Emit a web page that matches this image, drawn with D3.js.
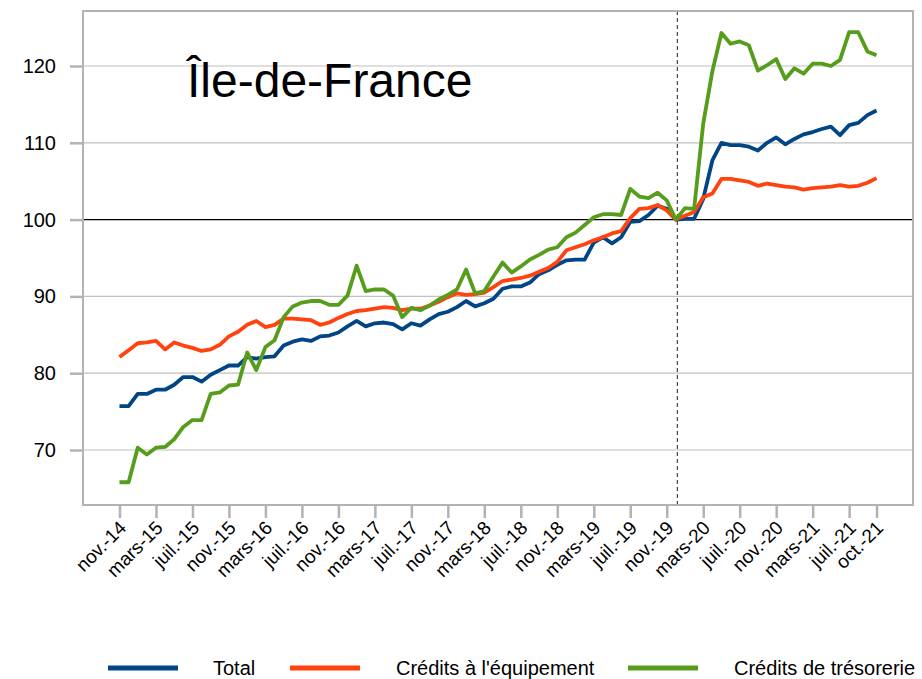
<!DOCTYPE html>
<html>
<head>
<meta charset="utf-8">
<script src="https://cdn.jsdelivr.net/npm/d3@7"></script>
<style>
    body { margin: 0; background: #fff; }
    svg text { font-family: "Liberation Sans", Arial, sans-serif; fill: #000; }
</style>
</head>
<body>
<div id="main"></div>
<script>
const W = 922, H = 679;
const TITLE = "Île-de-France";

// categories: one per month, nov. 2014 -> oct. 2021
const months = [
    "nov.-14", "déc.-14",
    "janv.-15", "févr.-15", "mars-15", "avr.-15", "mai-15", "juin-15", "juil.-15", "août-15", "sept.-15", "oct.-15", "nov.-15", "déc.-15",
    "janv.-16", "févr.-16", "mars-16", "avr.-16", "mai-16", "juin-16", "juil.-16", "août-16", "sept.-16", "oct.-16", "nov.-16", "déc.-16",
    "janv.-17", "févr.-17", "mars-17", "avr.-17", "mai-17", "juin-17", "juil.-17", "août-17", "sept.-17", "oct.-17", "nov.-17", "déc.-17",
    "janv.-18", "févr.-18", "mars-18", "avr.-18", "mai-18", "juin-18", "juil.-18", "août-18", "sept.-18", "oct.-18", "nov.-18", "déc.-18",
    "janv.-19", "févr.-19", "mars-19", "avr.-19", "mai-19", "juin-19", "juil.-19", "août-19", "sept.-19", "oct.-19", "nov.-19", "déc.-19",
    "janv.-20", "févr.-20", "mars-20", "avr.-20", "mai-20", "juin-20", "juil.-20", "août-20", "sept.-20", "oct.-20", "nov.-20", "déc.-20",
    "janv.-21", "févr.-21", "mars-21", "avr.-21", "mai-21", "juin-21", "juil.-21", "août-21", "sept.-21", "oct.-21"
];

const tickLabels = ["nov.-14", "mars-15", "juil.-15", "nov.-15", "mars-16", "juil.-16", "nov.-16", "mars-17",
    "juil.-17", "nov.-17", "mars-18", "juil.-18", "nov.-18", "mars-19", "juil.-19", "nov.-19", "mars-20",
    "juil.-20", "nov.-20", "mars-21", "juil.-21", "oct.-21"];

const yTicks = [70, 80, 90, 100, 110, 120];
const baseMonth = "déc.-19";

const total = [
    75.7, 75.7, 77.3, 77.3, 77.85, 77.85, 78.5, 79.5, 79.5, 78.9, 79.8, 80.4, 81.0, 81.0, 82.1, 81.9,
    82.1, 82.2, 83.6, 84.1, 84.4, 84.2, 84.8, 84.9, 85.3, 86.1, 86.8, 86.1, 86.5, 86.6, 86.4, 85.7,
    86.5, 86.2, 87.0, 87.7, 88.0, 88.6, 89.4, 88.7, 89.1, 89.7, 91.0, 91.3, 91.3, 91.8, 92.9, 93.4,
    94.1, 94.7, 94.8, 94.8, 97.0, 97.7, 96.9, 97.7, 99.7, 99.8, 100.6, 101.8, 101.4, 100.0, 100.1, 100.1,
    102.7, 107.7, 110.0, 109.7, 109.7, 109.5, 109.0, 110.0, 110.7, 109.8, 110.5, 111.1, 111.4, 111.8, 112.1, 111.0,
    112.3, 112.6, 113.6, 114.2
];

const equipement = [
    82.1, 83.0, 83.9, 84.0, 84.2, 83.1, 84.0, 83.6, 83.3, 82.9, 83.1, 83.7, 84.8, 85.4, 86.3, 86.8,
    86.0, 86.3, 87.1, 87.1, 87.0, 86.9, 86.3, 86.6, 87.2, 87.7, 88.1, 88.2, 88.4, 88.6, 88.5, 88.2,
    88.4, 88.4, 88.8, 89.3, 89.9, 90.4, 90.2, 90.3, 90.5, 91.2, 92.0, 92.2, 92.4, 92.7, 93.2, 93.7,
    94.5, 96.0, 96.4, 96.8, 97.3, 97.7, 98.2, 98.5, 100.2, 101.4, 101.5, 101.9, 101.2, 100.0, 100.5, 101.0,
    102.9, 103.4, 105.3, 105.3, 105.1, 104.9, 104.4, 104.7, 104.5, 104.3, 104.2, 103.9, 104.1, 104.2, 104.3, 104.5,
    104.3, 104.4, 104.8, 105.4
];

const tresorerie = [
    65.8, 65.8, 70.3, 69.4, 70.3, 70.4, 71.4, 73.0, 73.9, 73.9, 77.3, 77.5, 78.4, 78.5, 82.7, 80.4,
    83.4, 84.3, 87.3, 88.7, 89.2, 89.4, 89.4, 88.9, 88.9, 90.1, 94.0, 90.7, 90.9, 90.9, 90.1, 87.3,
    88.5, 88.2, 88.8, 89.6, 90.2, 90.9, 93.5, 90.4, 90.7, 92.6, 94.4, 93.1, 93.9, 94.8, 95.4, 96.1,
    96.4, 97.7, 98.3, 99.3, 100.3, 100.7, 100.7, 100.6, 104.0, 103.0, 102.8, 103.5, 102.5, 100.0, 101.5, 101.4,
    112.5, 119.3, 124.3, 122.9, 123.2, 122.7, 119.4, 120.1, 120.9, 118.3, 119.7, 119.0, 120.3, 120.3, 120.0, 120.8,
    124.4, 124.4, 121.9, 121.4
];

const seriesNames = ["Total", "Crédits à l'équipement", "Crédits de trésorerie"];
const seriesColors = ["#004586", "#ff420e", "#579d1c"];
const seriesValues = [total, equipement, tresorerie];

const plot = { left: 83, right: 913, top: 11, bottom: 505 };

const svg = d3.select("#main").append("svg")
    .attr("width", W)
    .attr("height", H);

const x = d3.scalePoint()
    .domain(months)
    .range([plot.left, plot.right])
    .padding(4);

const y = d3.scaleLinear()
    .domain([70, 120])
    .range([450, 66]);

// horizontal gridlines
svg.append("g")
    .selectAll("line")
    .data(yTicks)
    .enter()
    .append("line")
    .attr("x1", plot.left)
    .attr("x2", plot.right)
    .attr("y1", (d) => y(d))
    .attr("y2", (d) => y(d))
    .attr("stroke", (d) => (d === 100 ? "#000" : "#c0c0c0"))
    .attr("stroke-width", 1.2);

// base month marker
svg.append("line")
    .attr("x1", x(baseMonth) + 1.5)
    .attr("x2", x(baseMonth) + 1.5)
    .attr("y1", plot.top)
    .attr("y2", plot.bottom)
    .attr("stroke", "#444")
    .attr("stroke-width", 1.2)
    .attr("stroke-dasharray", "4,3");

// series
const line = d3.line()
    .x((d, i) => x(months[i]))
    .y((d) => y(d));

svg.append("g")
    .selectAll("path")
    .data(seriesValues)
    .enter()
    .append("path")
    .attr("d", (d) => line(d))
    .attr("fill", "none")
    .attr("stroke", (d, i) => seriesColors[i])
    .attr("stroke-width", 3.8)
    .attr("stroke-linejoin", "round");

// frame
svg.append("rect")
    .attr("x", plot.left)
    .attr("y", plot.top)
    .attr("width", plot.right - plot.left)
    .attr("height", plot.bottom - plot.top)
    .attr("fill", "none")
    .attr("stroke", "#b3b3b3")
    .attr("stroke-width", 2);

// axes
const yAxis = svg.append("g")
    .attr("transform", `translate(${plot.left},0)`)
    .call(d3.axisLeft(y).tickValues(yTicks).tickSize(13).tickPadding(14));
const xAxis = svg.append("g")
    .attr("transform", `translate(0,${plot.bottom})`)
    .call(d3.axisBottom(x).tickValues(tickLabels).tickSize(13).tickFormat(""));

[yAxis, xAxis].forEach((g) => {
    g.select(".domain").remove();
    g.selectAll(".tick line").attr("stroke", "#b3b3b3").attr("stroke-width", 2.5);
});
yAxis.selectAll("text")
    .attr("font-size", 20)
    .attr("font-family", "Liberation Sans, Arial, sans-serif")
    .attr("fill", "#000");

svg.append("g")
    .selectAll("text")
    .data(tickLabels)
    .enter()
    .append("text")
    .attr("transform", (d) => `translate(${x(d) + 8},${plot.bottom + 24}) rotate(-45)`)
    .attr("text-anchor", "end")
    .attr("font-size", 19)
    .text((d) => d);

// title
svg.append("text")
    .attr("x", 187)
    .attr("y", 97)
    .attr("font-size", 48)
    .text(TITLE);

// legend
const legendX = [108, 290, 628];
const legend = svg.append("g")
    .selectAll("g")
    .data(seriesNames)
    .enter()
    .append("g")
    .attr("transform", (d, i) => `translate(${legendX[i]},668)`);
legend.append("line")
    .attr("x1", 0)
    .attr("x2", 70)
    .attr("stroke", (d, i) => seriesColors[i])
    .attr("stroke-width", 5);
legend.append("text")
    .attr("x", (d, i) => (i === 0 ? 105 : 106))
    .attr("y", 7)
    .attr("font-size", 20)
    .text((d) => d);
</script>
</body>
</html>
